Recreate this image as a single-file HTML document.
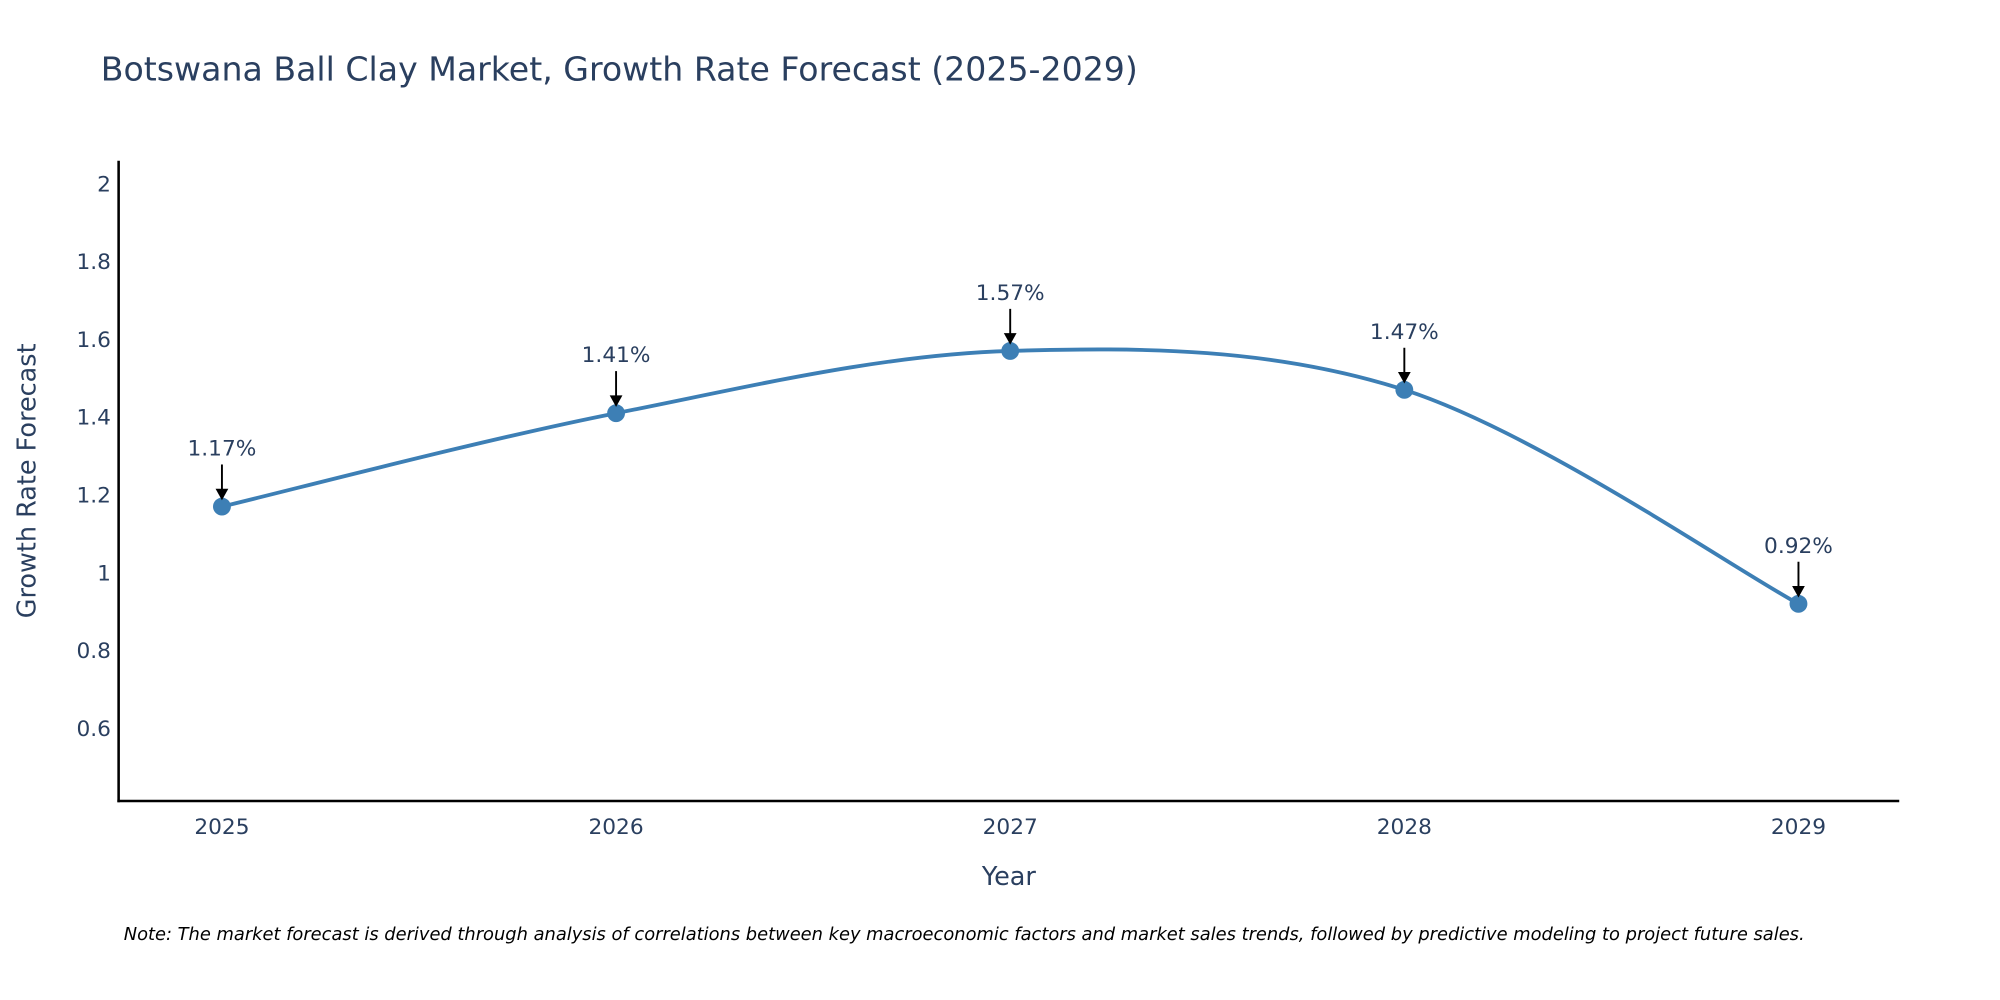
<!DOCTYPE html>
<html><head><meta charset="utf-8"><style>
html,body{margin:0;padding:0;background:#fff;}
svg{display:block;font-family:"DejaVu Sans","Liberation Sans",Arial,sans-serif;}
</style></head><body>
<svg width="2000" height="1000" viewBox="0 0 1568 784">
<rect width="1568" height="784" fill="#fff"/>
<text x="79" y="63" font-size="26" fill="#2a3f5f">Botswana Ball Clay Market, Growth Rate Forecast (2025-2029)</text>
<g id="yticks"></g>
<g id="xticks"></g>
<line x1="93" y1="126" x2="93" y2="629" stroke="#000" stroke-width="2"/>
<line x1="92" y1="628" x2="1489" y2="628" stroke="#000" stroke-width="2"/>
<path id="line" fill="none" stroke="#3d7fb5" stroke-width="3"/>
<g id="points"></g>
<g id="annos"></g>
<text transform="translate(28,377) rotate(-90)" text-anchor="middle" font-size="20" fill="#2a3f5f">Growth Rate Forecast</text>
<text x="791" y="694" text-anchor="middle" font-size="20" fill="#2a3f5f">Year</text>
<text x="97" y="737" font-size="14" font-style="italic" fill="#000">Note: The market forecast is derived through analysis of correlations between key macroeconomic factors and market sales trends, followed by predictive modeling to project future sales.</text>
</svg>
<script>
const years = ["2025","2026","2027","2028","2029"];
const values = [1.17, 1.41, 1.57, 1.47, 0.92];
const labels = ["1.17%","1.41%","1.57%","1.47%","0.92%"];
const yTicks = [0.6, 0.8, 1, 1.2, 1.4, 1.6, 1.8, 2];
const NS = "http://www.w3.org/2000/svg";
function xs(i){ return 174 + i * 309; }
function ys(v){ return 571 - (v - 0.6) / 0.2 * 61; }
function mk(tag, attrs, parent){ const e = document.createElementNS(NS, tag); for (const k in attrs) e.setAttribute(k, attrs[k]); parent.appendChild(e); return e; }
const yg = document.getElementById('yticks');
yTicks.forEach(v => {
  const t = mk('text', {x: 87, y: ys(v) + 6, 'text-anchor': 'end', 'font-size': 17, fill: '#2a3f5f'}, yg);
  
  
  t.textContent = String(v);
});
const xg = document.getElementById('xticks');
years.forEach((y, i) => {
  const t = mk('text', {x: xs(i), y: 654, 'text-anchor': 'middle', 'font-size': 17, fill: '#2a3f5f'}, xg);
  
  
  t.textContent = y;
});
const P = values.map((v, i) => [xs(i), ys(v)]);
let d = `M${P[0][0]},${P[0][1]}`;
const s = 1/6;
for (let i = 0; i < P.length - 1; i++) {
  const p0 = P[Math.max(0, i-1)], p1 = P[i], p2 = P[i+1], p3 = P[Math.min(P.length-1, i+2)];
  const c1 = [p1[0] + (p2[0]-p0[0])*s, p1[1] + (p2[1]-p0[1])*s];
  const c2 = [p2[0] - (p3[0]-p1[0])*s, p2[1] - (p3[1]-p1[1])*s];
  d += ` C${c1[0]},${c1[1]} ${c2[0]},${c2[1]} ${p2[0]},${p2[1]}`;
}
document.getElementById('line').setAttribute('d', d);
const pg = document.getElementById('points');
const ag = document.getElementById('annos');
P.forEach((p, i) => {
  const c = mk('circle', {cx: p[0], cy: p[1], r: 7, fill: '#3d7fb5'}, pg);
  
  
  const l = mk('line', {x1: p[0], y1: p[1]-33, x2: p[0], y2: p[1]-12, stroke: '#000', 'stroke-width': 1.5}, ag);
  
  
  const h = mk('polygon', {points: `${p[0]-5},${p[1]-14} ${p[0]+5},${p[1]-14} ${p[0]},${p[1]-5}`, fill: '#000'}, ag);
  
  
  const t = mk('text', {x: p[0], y: p[1]-40, 'text-anchor': 'middle', 'font-size': 17, fill: '#2a3f5f'}, ag);
  
  
  t.textContent = labels[i];
});
</script>
</body></html>
